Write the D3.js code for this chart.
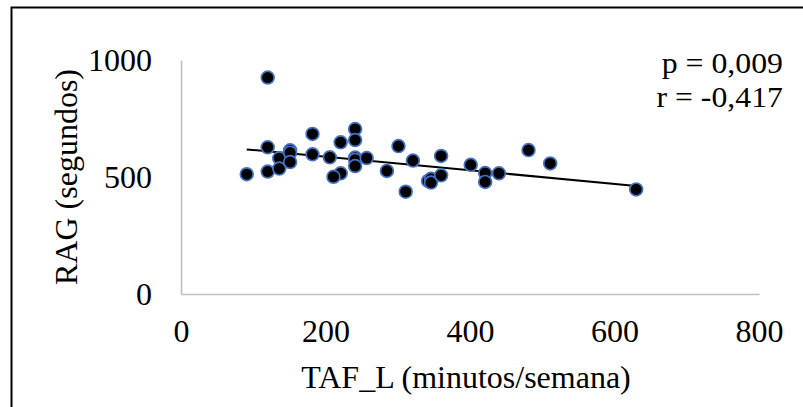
<!DOCTYPE html>
<html>
<head>
<meta charset="utf-8">
<script src="https://cdn.jsdelivr.net/npm/d3@7"></script>
<style>
  html, body { margin: 0; padding: 0; background: #fff; }
  svg { display: block; }
  text { font-family: "Liberation Serif", "Times New Roman", serif; fill: #000; }
</style>
</head>
<body>
<svg id="chart" width="803" height="407"></svg>
<script>
// ---- data ----
const tafL = [120, 91, 120, 120, 136, 136, 151, 151, 151, 182, 182, 206, 221, 221, 211,
              241, 241, 241, 241, 241, 257, 285, 301, 311, 321, 342, 346, 346, 360, 360,
              401, 421, 421, 440, 481, 511, 630];
const rag  = [925, 512, 627, 523, 580, 536, 614, 604, 564, 684, 597, 584, 648, 516, 501,
              705, 658, 583, 574, 547, 581, 526, 632, 437, 570, 483, 492, 476, 590, 507,
              552, 517, 479, 516, 615, 558, 447];
const trendX = [91, 630];
const trendY = [618, 462];
const xTicks = [0, 200, 400, 600, 800];
const yTicks = [0, 500, 1000];
const xTitle = "TAF_L (minutos/semana)";
const yTitle = "RAG (segundos)";
const statLines = ["p = 0,009", "r = -0,417"];

// ---- drawing ----
const svg = d3.select("#chart");
const mLeft = 181, mRight = 759, mTop = 60, mBottom = 294;
const FS = 32;
const x = d3.scaleLinear().domain([0, 800]).range([mLeft, mRight]);
const y = d3.scaleLinear().domain([0, 1000]).range([mBottom, mTop]);

// outer frame
svg.append("rect").attr("x", 11.5).attr("y", 7.5).attr("width", 820).attr("height", 420)
  .attr("fill", "none").attr("stroke", "#000").attr("stroke-width", 2);

// axes
const xAxis = svg.append("g").attr("transform", `translate(0,${mBottom})`)
  .call(d3.axisBottom(x).tickValues(xTicks).tickFormat(d3.format("d")).tickSize(0).tickPadding(25));
const yAxis = svg.append("g").attr("transform", `translate(${mLeft},0)`)
  .call(d3.axisLeft(y).tickValues(yTicks).tickFormat(d3.format("d")).tickSize(0).tickPadding(29));
[xAxis, yAxis].forEach(g => {
  g.select(".domain").attr("stroke", "#c0c0c0").attr("stroke-width", 1.6);
  g.selectAll("text").attr("font-size", FS).style("font-family", '"Liberation Serif", serif').attr("fill", "#000");
});

// trend line
svg.append("line")
  .attr("x1", x(trendX[0])).attr("y1", y(trendY[0]))
  .attr("x2", x(trendX[1])).attr("y2", y(trendY[1]))
  .attr("stroke", "#000").attr("stroke-width", 2);

// points
svg.append("g").selectAll("circle").data(tafL.map((v, i) => [v, rag[i]])).join("circle")
  .attr("cx", d => x(d[0])).attr("cy", d => y(d[1])).attr("r", 6.4)
  .attr("fill", "#000").attr("stroke", "#4472C4").attr("stroke-width", 1.7);

// titles
svg.append("text").attr("x", 466).attr("y", 388)
  .attr("text-anchor", "middle").attr("font-size", FS).text(xTitle);
svg.append("text").attr("transform", `translate(77,${(mTop + mBottom) / 2}) rotate(-90)`)
  .attr("text-anchor", "middle").attr("font-size", FS).text(yTitle);

// stats
const statsG = svg.append("g").attr("transform", "translate(783,0) scale(1.06,1)");
statLines.forEach((s, i) => {
  statsG.append("text").attr("x", 0).attr("y", 73 + i * 34)
    .attr("text-anchor", "end").attr("font-size", 30).text(s);
});
</script>
</body>
</html>
